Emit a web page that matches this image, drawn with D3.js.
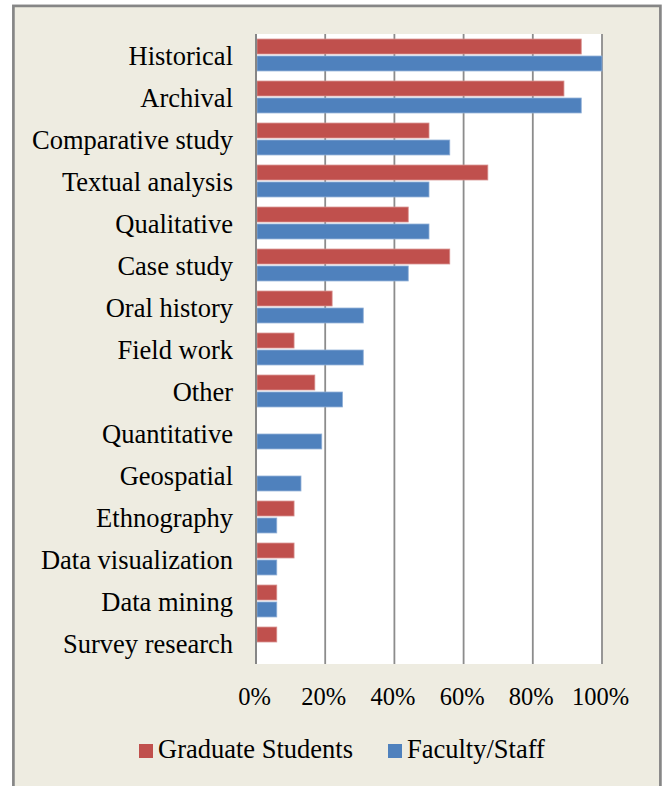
<!DOCTYPE html>
<html>
<head>
<meta charset="utf-8">
<script src="https://cdn.jsdelivr.net/npm/d3@7"></script>
<style>
  body { margin: 0; background: #fff; }
  text { font-family: "Liberation Serif", "Times New Roman", serif; fill: #000; }
</style>
</head>
<body>
<div id="chart"></div>
<script>
const categories = [
  "Historical", "Archival", "Comparative study", "Textual analysis", "Qualitative",
  "Case study", "Oral history", "Field work", "Other", "Quantitative",
  "Geospatial", "Ethnography", "Data visualization", "Data mining", "Survey research"
];
const seriesNames = ["Graduate Students", "Faculty/Staff"];
const gradStudents = [94, 89, 50, 67, 44, 56, 22, 11, 17, 0, 0, 11, 11, 6, 6];
const facultyStaff = [100, 94, 56, 50, 50, 44, 31, 31, 25, 19, 13, 6, 6, 6, 0];
const xTicks = [0, 20, 40, 60, 80, 100];
const colors = ["#C0504D", "#4F81BD"];
const strokes = ["#d68e8c", "#8eaed6"];

function renderBars() {
  const W = 665, H = 786;
  const svg = d3.select("#chart").append("svg")
    .attr("width", W)
    .attr("height", H);

  // outer chart frame
  svg.append("rect")
    .attr("x", 13.4).attr("y", 5.9)
    .attr("width", 647).attr("height", 820)
    .attr("fill", "#EEECE1")
    .attr("stroke", "#868686")
    .attr("stroke-width", 2.7);

  const plot = { left: 256, right: 602, top: 34, bottom: 664 };

  const x = d3.scaleLinear()
    .domain([0, 100])
    .range([plot.left, plot.right]);

  const y = d3.scaleBand()
    .domain(categories)
    .range([plot.top, plot.bottom])
    .paddingInner(0.24)
    .paddingOuter(0.12);

  const ySub = d3.scaleBand()
    .domain(seriesNames)
    .range([0, y.bandwidth()])
    .paddingInner(0.12);

  svg.append("rect")
    .attr("x", plot.left).attr("y", plot.top)
    .attr("width", plot.right - plot.left)
    .attr("height", plot.bottom - plot.top)
    .attr("fill", "#fff");

  // vertical gridlines
  svg.append("g")
    .selectAll("line")
    .data(xTicks)
    .join("line")
    .attr("x1", d => x(d)).attr("x2", d => x(d))
    .attr("y1", plot.top).attr("y2", plot.bottom)
    .attr("stroke", "#8c8c8c")
    .attr("stroke-width", 1.8);

  const rows = categories.map((c, i) => ({
    cat: c,
    vals: [gradStudents[i], facultyStaff[i]]
  }));

  const groups = svg.append("g")
    .selectAll("g")
    .data(rows)
    .join("g")
    .attr("transform", d => `translate(0,${y(d.cat)})`);

  groups.selectAll("rect")
    .data(d => d.vals.map((v, j) => ({ key: seriesNames[j], v, j })).filter(d => d.v > 0))
    .join("rect")
    .attr("x", x(0) + 1)
    .attr("y", d => ySub(d.key))
    .attr("width", d => x(d.v) - x(0) - 1)
    .attr("height", ySub.bandwidth())
    .attr("fill", d => colors[d.j])
    .attr("stroke", d => strokes[d.j])
    .attr("stroke-width", 0.8);

  // left axis line
  svg.append("line")
    .attr("x1", x(0)).attr("x2", x(0))
    .attr("y1", plot.top).attr("y2", plot.bottom)
    .attr("stroke", "#868686")
    .attr("stroke-width", 2);

  // category labels
  const yAxis = d3.axisLeft(y).tickSize(0).tickPadding(0);
  const yg = svg.append("g")
    .attr("transform", `translate(233,0)`)
    .call(yAxis);
  yg.select(".domain").remove();
  yg.selectAll("text")
    .attr("x", 0)
    .attr("dy", "0.37em")
    .style("font-family", "'Liberation Serif', serif")
    .style("font-size", "26.5px")
    .attr("fill", "#000")
    .attr("text-anchor", "end");

  // x tick labels
  const xAxis = d3.axisBottom(x)
    .tickValues(xTicks)
    .tickFormat(d => d + "%")
    .tickSize(0)
    .tickPadding(0);
  const xg = svg.append("g")
    .attr("transform", `translate(-2,${plot.bottom})`)
    .call(xAxis);
  xg.select(".domain").remove();
  xg.selectAll("text")
    .attr("y", 41)
    .attr("dy", 0)
    .style("font-family", "'Liberation Serif', serif")
    .style("font-size", "24.5px")
    .attr("fill", "#000");

  // legend
  const legendPos = [139, 388];
  const legend = svg.append("g")
    .selectAll("g")
    .data(seriesNames)
    .join("g")
    .attr("transform", (d, i) => `translate(${legendPos[i]},744)`);
  legend.append("rect")
    .attr("width", 14).attr("height", 14)
    .attr("fill", (d, i) => colors[i]);
  legend.append("text")
    .attr("x", 19)
    .attr("y", 14)
    .style("font-size", "26.5px")
    .text(d => d);
}

renderBars();
</script>
</body>
</html>
